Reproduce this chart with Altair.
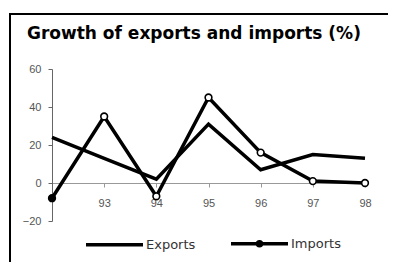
import altair as alt
import pandas as pd

years = ["92", "93", "94", "95", "96", "97", "98"]
exports = [24, 13, 2, 31, 7, 15, 13]
imports = [-8, 35, -7, 45, 16, 1, 0]
series = ["Exports", "Imports"]
y_ticks = [-20, 0, 20, 40, 60]
x_labels = ["93", "94", "95", "96", "97", "98"]
title_text = "Growth of exports and imports (%)"

df = pd.DataFrame({
    "year": years * 2,
    "series": [series[0]] * len(years) + [series[1]] * len(years),
    "value": exports + imports,
})

FONT = "Liberation Sans"
LINE_PATH = "M-1,0H1"
MARK_PATH = "M-1,0H1M0.07,0A0.07,0.07,0,1,1,-0.07,0A0.07,0.07,0,1,1,0.07,0Z"

x_enc = alt.X(
    "year:O",
    sort=years,
    scale=alt.Scale(type="point", padding=0, domain=years),
    axis=alt.Axis(
        title=None, values=x_labels, labelAngle=0, offset=-38,
        domainColor="#999", domainWidth=1, tickColor="#999", tickSize=4,
        labelPadding=10, labelFont=FONT, labelFontSize=11, labelColor="#555",
        grid=False,
    ),
)
y_enc = alt.Y(
    "value:Q",
    scale=alt.Scale(domain=[-20, 60], nice=False, zero=False),
    axis=alt.Axis(
        title=None, values=y_ticks, grid=False,
        domainColor="#666", domainWidth=1, tickColor="#666", tickSize=4,
        labelPadding=7, labelFont=FONT, labelFontSize=11, labelColor="#555",
    ),
)

base = alt.Chart(df)

lines = base.mark_line(strokeWidth=3.5, color="black", strokeJoin="miter").encode(
    x=x_enc, y=y_enc, detail="series:N"
)

points = base.transform_filter(alt.datum.series == "Imports").mark_point(
    filled=True, size=45, stroke="black", strokeWidth=1.6, opacity=1
).encode(
    x=x_enc, y=y_enc,
    fill=alt.condition("datum.year == '92'", alt.value("black"), alt.value("white")),
)

legend_layer = base.transform_filter("false").mark_point(
    filled=False, color="black", strokeWidth=3.5, opacity=1
).encode(
    x=x_enc, y=y_enc,
    shape=alt.Shape(
        "series:N",
        scale=alt.Scale(domain=series, range=[LINE_PATH, MARK_PATH]),
        legend=alt.Legend(
            title=None, orient="none", legendX=32, legendY=144,
            direction="horizontal", symbolSize=57 * 57,
            symbolStrokeColor="black", symbolStrokeWidth=3.5, symbolOpacity=1,
            labelFont="DejaVu Sans", labelFontSize=13, labelColor="#333",
            labelOffset=1, columnPadding=28, padding=0,
        ),
    ),
)

frame = alt.Chart(alt.Data(values=[{}])).mark_rect(
    fill="transparent", stroke="black", strokeWidth=2
).encode(
    x=alt.value(-42), x2=alt.value(400), y=alt.value(-55), y2=alt.value(300)
)

chart = alt.layer(frame, lines, points, legend_layer).properties(
    width=313,
    height=152,
    padding={"left": 44, "top": 61, "right": 23, "bottom": 41},
    autosize=alt.AutoSizeParams(type="none"),
    title=alt.TitleParams(
        title_text, anchor="start", frame="group", dx=-25, dy=43, offset=0,
        baseline="alphabetic", font="DejaVu Sans", fontSize=17,
        fontWeight="bold", color="black",
    ),
).configure_view(stroke=None)

chart.save("out.html", embed_options={"renderer": "svg", "actions": False})
